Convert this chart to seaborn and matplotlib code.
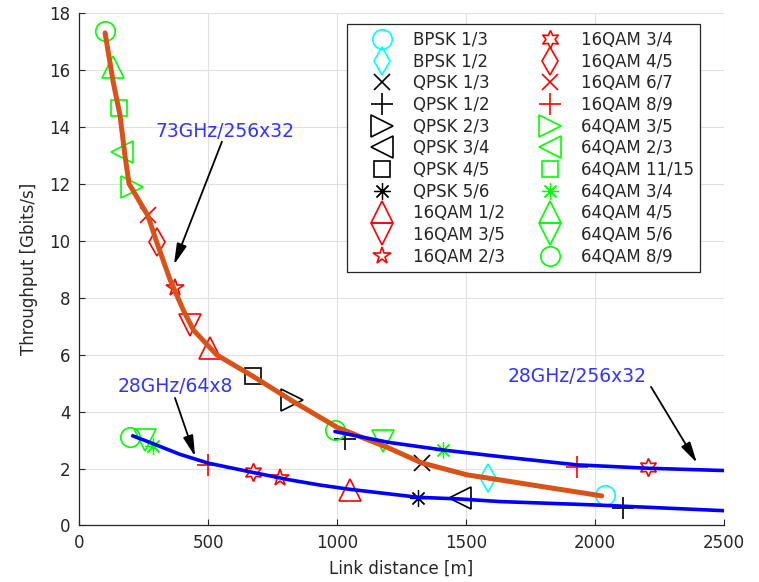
import matplotlib
matplotlib.use("Agg")
import matplotlib.pyplot as plt
from matplotlib.lines import Line2D
import pandas as pd
import seaborn as sns

# Modulation and coding schemes, in legend order (filled column by column)
schemes = ["BPSK 1/3", "BPSK 1/2", "QPSK 1/3", "QPSK 1/2", "QPSK 2/3", "QPSK 3/4",
           "QPSK 4/5", "QPSK 5/6", "16QAM 1/2", "16QAM 3/5", "16QAM 2/3",
           "16QAM 3/4", "16QAM 4/5", "16QAM 6/7", "16QAM 8/9", "64QAM 3/5",
           "64QAM 2/3", "64QAM 11/15", "64QAM 3/4", "64QAM 4/5", "64QAM 5/6",
           "64QAM 8/9"]

# Throughput curves [distance m, Gbit/s]
c73_dist = [101, 132, 159, 178, 194, 267, 302, 353, 404, 443, 534, 676, 831, 934,
            1000, 1100, 1193, 1328, 1503, 1632, 1800, 2026]
c73_thr = [17.3, 15.6, 14.4, 13.0, 12.0, 10.88, 9.93, 8.63, 7.57, 6.87, 5.99, 5.23,
           4.35, 3.8, 3.45, 3.08, 2.75, 2.2, 1.78, 1.6, 1.36, 1.04]

c28big_dist = [992, 1100, 1200, 1412, 1632, 1929, 2207, 2500]
c28big_thr = [3.30, 3.1, 2.92, 2.65, 2.42, 2.13, 2.01, 1.93]

c28small_dist = [208, 288, 391, 501, 676, 818, 934, 1050, 1315, 1477, 1632, 2004, 2500]
c28small_thr = [3.15, 2.87, 2.5, 2.19, 1.86, 1.6, 1.42, 1.27, 0.99, 0.93, 0.84, 0.72, 0.52]

# Operating points of each scheme along the curves
p73_mcs = ["64QAM 8/9", "64QAM 4/5", "64QAM 11/15", "64QAM 2/3", "64QAM 3/5",
           "16QAM 6/7", "16QAM 4/5", "16QAM 2/3", "16QAM 3/5", "16QAM 1/2",
           "QPSK 4/5", "QPSK 2/3", "QPSK 1/2", "QPSK 1/3", "BPSK 1/2", "BPSK 1/3"]
p73_dist = [101, 132, 155, 167, 205, 267, 302, 372, 430, 508, 673, 824, 1031, 1328, 1586, 2039]
p73_thr = [17.38, 16.1, 14.67, 13.13, 11.9, 10.91, 9.96, 8.34, 7.05, 6.23, 5.25, 4.39,
           3.05, 2.19, 1.66, 1.07]

p28big_mcs = ["64QAM 8/9", "64QAM 5/6", "64QAM 3/4", "16QAM 8/9", "16QAM 3/4"]
p28big_dist = [992, 1180, 1412, 1932, 2207]
p28big_thr = [3.36, 2.95, 2.65, 2.05, 2.07]

p28small_mcs = ["64QAM 8/9", "64QAM 5/6", "64QAM 3/4", "16QAM 8/9", "16QAM 3/4",
                "16QAM 2/3", "16QAM 1/2", "QPSK 5/6", "QPSK 3/4", "QPSK 1/2"]
p28small_dist = [198, 256, 288, 501, 676, 780, 1050, 1315, 1477, 2107]
p28small_thr = [3.12, 3.0, 2.79, 2.13, 1.89, 1.66, 1.25, 0.96, 0.96, 0.6]

x_ticks = [0, 500, 1000, 1500, 2000, 2500]
y_ticks = [0, 2, 4, 6, 8, 10, 12, 14, 16, 18]

# marker, colour, size for each scheme
CY, BK, RD, GN = "#00ffff", "#000000", "#ff0000", "#00ff00"
style = {
    "BPSK 1/3": ("o", CY, 14), "BPSK 1/2": ("d", CY, 14),
    "QPSK 1/3": ("x", BK, 11), "QPSK 1/2": ("+", BK, 16),
    "QPSK 2/3": (">", BK, 16), "QPSK 3/4": ("<", BK, 16),
    "QPSK 4/5": ("s", BK, 11), "QPSK 5/6": ((8, 2, 0), BK, 12),
    "16QAM 1/2": ("^", RD, 16), "16QAM 3/5": ("v", RD, 16),
    "16QAM 2/3": ("*", RD, 13), "16QAM 3/4": ((6, 1, 0), RD, 13),
    "16QAM 4/5": ("d", RD, 14), "16QAM 6/7": ("x", RD, 11),
    "16QAM 8/9": ("+", RD, 16), "64QAM 3/5": (">", GN, 16),
    "64QAM 2/3": ("<", GN, 16), "64QAM 11/15": ("s", GN, 11),
    "64QAM 3/4": ((8, 2, 0), GN, 12), "64QAM 4/5": ("^", GN, 16),
    "64QAM 5/6": ("v", GN, 16), "64QAM 8/9": ("o", GN, 14),
}

sns.set_theme(style="white")
plt.rcParams["font.family"] = ["DejaVu Sans"]

fig = plt.figure(figsize=(7.59, 5.82), dpi=100)
ax = fig.add_axes([0.1041, 0.0971, 0.8498, 0.8806])

MEW = 1.2


def edge_width(marker):
    # asterisks look heavy with many spokes, so draw them a bit thinner
    return 0.9 if isinstance(marker, tuple) and marker[1] == 2 else MEW


def draw_points(names, xs, ys):
    for n, x, y in zip(names, xs, ys):
        m, c, s = style[n]
        ax.plot([x], [y], linestyle="none", marker=m, markersize=s,
                markerfacecolor="none", markeredgecolor=c, color=c,
                markeredgewidth=edge_width(m), zorder=2)


draw_points(p73_mcs, p73_dist, p73_thr)
draw_points(p28big_mcs, p28big_dist, p28big_thr)
draw_points(p28small_mcs, p28small_dist, p28small_thr)

curves = pd.concat([
    pd.DataFrame({"d": c73_dist, "t": c73_thr, "sys": "73GHz/256x32"}),
    pd.DataFrame({"d": c28big_dist, "t": c28big_thr, "sys": "28GHz/256x32"}),
    pd.DataFrame({"d": c28small_dist, "t": c28small_thr, "sys": "28GHz/64x8"}),
])
sns.lineplot(data=curves[curves.sys == "73GHz/256x32"], x="d", y="t", sort=False,
             estimator=None, color="#d95319", linewidth=3.6, ax=ax, zorder=3)
for s in ["28GHz/256x32", "28GHz/64x8"]:
    sns.lineplot(data=curves[curves.sys == s], x="d", y="t", sort=False,
                 estimator=None, color="#0000ff", linewidth=2.6, ax=ax, zorder=4)

# annotations
TXT = "#3333ff"
arrow = dict(arrowstyle="-|>,head_length=0.9,head_width=0.22", color="black",
             lw=1.3, shrinkA=0, shrinkB=0, mutation_scale=14)
ax.text(295, 13.83, "73GHz/256x32", color=TXT, fontsize=13.5, va="center", ha="left")
ax.annotate("", xy=(368, 9.16), xytext=(554, 13.48), arrowprops=arrow)
ax.text(151, 4.87, "28GHz/64x8", color=TXT, fontsize=13.5, va="center", ha="left")
ax.annotate("", xy=(450, 2.42), xytext=(372, 4.48), arrowprops=arrow)
ax.text(1663, 5.25, "28GHz/256x32", color=TXT, fontsize=13.5, va="center", ha="left")
ax.annotate("", xy=(2395, 2.2), xytext=(2217, 4.87), arrowprops=arrow)

ax.set_xlim(0, 2500)
ax.set_ylim(0, 18)
ax.set_xticks(x_ticks)
ax.set_yticks(y_ticks)
ax.set_xticklabels([str(v) for v in x_ticks])
ax.set_yticklabels([str(v) for v in y_ticks])
ax.grid(True, color="#e0e0e0", linewidth=0.8)
ax.set_axisbelow(True)
for side in ["top", "right"]:
    ax.spines[side].set_visible(False)
for side in ["left", "bottom"]:
    ax.spines[side].set_color("#262626")
    ax.spines[side].set_linewidth(0.9)
ax.tick_params(direction="in", length=4, width=0.8, colors="#262626",
               labelsize=12, left=True, bottom=True, pad=6)
ax.set_xlabel("Link distance [m]", fontsize=12, color="#262626", labelpad=6)
ax.set_ylabel("Throughput [Gbits/s]", fontsize=12, color="#262626", labelpad=8)

handles = []
for n in schemes:
    m, c, s = style[n]
    handles.append(Line2D([], [], linestyle="none", marker=m, markersize=s,
                          markerfacecolor="none", markeredgecolor=c,
                          markeredgewidth=edge_width(m), label=n))
leg = ax.legend(handles=handles, ncol=2, loc="upper left",
                bbox_to_anchor=(0.4155, 0.978), fontsize=12, frameon=True,
                fancybox=False, framealpha=1, edgecolor="#262626",
                handlelength=3.4, handletextpad=0.15, columnspacing=1.0,
                labelspacing=0.22, borderpad=0.4, borderaxespad=0)
leg.get_frame().set_linewidth(0.9)
for t in leg.get_texts():
    t.set_color("#262626")

fig.savefig("out.png", dpi=100)
